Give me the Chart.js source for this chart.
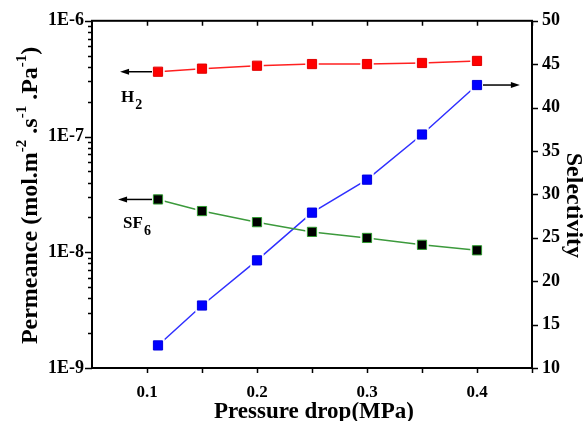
<!DOCTYPE html>
<html>
<head>
<meta charset="utf-8">
<script src="https://cdn.jsdelivr.net/npm/chart.js@4.4.1/dist/chart.umd.min.js"></script>
<style>
  html, body { margin: 0; padding: 0; background: #fff; }
  canvas { display: block; }
</style>
</head>
<body>
<canvas id="chart" width="585" height="421"></canvas>
<script>
// pressure drop (MPa)
var pressure = [0.11, 0.15, 0.2, 0.25, 0.3, 0.35, 0.4];
// permeance, mol.m-2.s-1.Pa-1
var h2Perm = [3.63e-7, 3.86e-7, 4.09e-7, 4.23e-7, 4.23e-7, 4.32e-7, 4.50e-7];
var sf6Perm = [2.86e-8, 2.27e-8, 1.82e-8, 1.50e-8, 1.33e-8, 1.16e-8, 1.04e-8];
// H2/SF6 selectivity
var selectivity = [12.6, 17.2, 22.4, 27.9, 31.7, 36.9, 42.6];

var xTicks = [0.1, 0.2, 0.3, 0.4];
var xLabels = ['0.1', '0.2', '0.3', '0.4'];
var permTicks = [1e-9, 1e-8, 1e-7, 1e-6];
var permLabels = ['1E-9', '1E-8', '1E-7', '1E-6'];

var SERIF = '"Liberation Serif", "Times New Roman", serif';

function pts(ys) {
    return pressure.map(function (p, i) { return { x: p, y: ys[i] }; });
}

// each series: a plain line, a white halo under the markers (gives the
// small gap between line and marker), then the markers themselves
function series(ys, axis, lineColor, fill, edge) {
    return [
        { data: pts(ys), yAxisID: axis, borderColor: lineColor, borderWidth: 1.5,
          pointRadius: 0, showLine: true, order: 3 },
        { data: pts(ys), yAxisID: axis, showLine: false, pointStyle: 'rect',
          pointRadius: 9.5, pointBackgroundColor: '#fff', pointBorderWidth: 0, order: 2 },
        { data: pts(ys), yAxisID: axis, showLine: false, pointStyle: 'rect',
          pointRadius: 6.5, pointBackgroundColor: fill, pointBorderColor: edge,
          pointBorderWidth: 1, order: 1 }
    ];
}

function arrow(ctx, x0, y0, x1, y1) {
    var dir = x1 > x0 ? 1 : -1;
    ctx.beginPath();
    ctx.moveTo(x0, y0);
    ctx.lineTo(x1 - dir * 6, y1);
    ctx.stroke();
    ctx.beginPath();
    ctx.moveTo(x1, y1);
    ctx.lineTo(x1 - dir * 9, y1 - 3);
    ctx.lineTo(x1 - dir * 9, y1 + 3);
    ctx.closePath();
    ctx.fill();
}

// text with a subscript part, e.g. H + 2
function subText(ctx, main, sub, x, y) {
    ctx.font = 'bold 17px ' + SERIF;
    ctx.fillText(main, x, y);
    var w = ctx.measureText(main).width;
    ctx.font = 'bold 14px ' + SERIF;
    ctx.fillText(sub, x + w + 1, y + 7);
}

var frame = {
    id: 'frame',
    afterDraw: function (chart) {
        var ctx = chart.ctx;
        var a = chart.chartArea;
        var sx = chart.scales.x, sy = chart.scales.y, sy2 = chart.scales.y2;
        ctx.save();
        ctx.strokeStyle = '#000';
        ctx.fillStyle = '#000';

        // axis box
        ctx.lineWidth = 2;
        ctx.strokeRect(a.left, a.top, a.right - a.left, a.bottom - a.top);

        // x ticks: outward at bottom, inward at top
        ctx.lineWidth = 1.5;
        ctx.beginPath();
        for (var v = 0.1; v < 0.451; v += 0.05) {
            var px = Math.round(sx.getPixelForValue(v)) + 0.5;
            ctx.moveTo(px, a.bottom); ctx.lineTo(px, a.bottom + 5);
            ctx.moveTo(px, a.top); ctx.lineTo(px, a.top + 5);
        }
        // log ticks on the left, decades long, 2..9 short
        permTicks.forEach(function (d, i) {
            var py = Math.round(sy.getPixelForValue(d)) + 0.5;
            ctx.moveTo(a.left, py); ctx.lineTo(a.left - 7, py);
            if (i < permTicks.length - 1) {
                for (var k = 2; k <= 9; k++) {
                    var my = Math.round(sy.getPixelForValue(k * d)) + 0.5;
                    ctx.moveTo(a.left, my); ctx.lineTo(a.left - 4, my);
                }
            }
        });
        // selectivity ticks on the right
        for (var s = 10; s <= 50; s += 5) {
            var ry = Math.round(sy2.getPixelForValue(s)) + 0.5;
            ctx.moveTo(a.right, ry); ctx.lineTo(a.right + 6, ry);
        }
        ctx.stroke();

        // arrows pointing to the axis each series belongs to
        ctx.lineWidth = 1.5;
        var tipL = sx.getPixelForValue(0.0755);
        var tipR = sx.getPixelForValue(0.439);
        var x0 = sx.getPixelForValue(pressure[0]);
        var xN = sx.getPixelForValue(pressure[pressure.length - 1]);
        var yH2 = sy.getPixelForValue(h2Perm[0]);
        var ySF6 = sy.getPixelForValue(sf6Perm[0]);
        var ySel = sy2.getPixelForValue(selectivity[selectivity.length - 1]);
        arrow(ctx, x0 - 6, yH2, tipL, yH2);
        arrow(ctx, x0 - 6, ySF6, tipL - 2, ySF6);
        arrow(ctx, xN + 6, ySel, tipR, ySel);

        ctx.textAlign = 'left';
        ctx.textBaseline = 'alphabetic';
        subText(ctx, 'H', '2', tipL + 1, yH2 + 30);
        subText(ctx, 'SF', '6', tipL + 3, ySF6 + 29);

        // axis titles
        ctx.font = 'bold 23px ' + SERIF;
        ctx.textAlign = 'center';
        ctx.fillText('Pressure drop(MPa)', (a.left + a.right) / 2 + 2, 418);

        ctx.save();
        ctx.translate(567, (a.top + a.bottom) / 2 + 11);
        ctx.rotate(Math.PI / 2);
        ctx.font = 'bold 24px ' + SERIF;
        ctx.fillText('Selectivity', 0, 0);
        ctx.restore();

        // left title with superscripts, drawn piece by piece
        ctx.save();
        ctx.translate(37, (a.top + a.bottom) / 2 + 1);
        ctx.rotate(-Math.PI / 2);
        var parts = [
            ['Permeance (mol.m', 0], ['-2', 1], [' .s', 0], ['-1', 1],
            [' .Pa', 0], ['-1', 1], [')', 0]
        ];
        var big = 'bold 24px ' + SERIF, small = 'bold 15px ' + SERIF;
        var total = 0;
        parts.forEach(function (p) {
            ctx.font = p[1] ? small : big;
            total += ctx.measureText(p[0]).width;
        });
        var cx = -total / 2;
        ctx.textAlign = 'left';
        parts.forEach(function (p) {
            ctx.font = p[1] ? small : big;
            ctx.fillText(p[0], cx, p[1] ? -11 : 0);
            cx += ctx.measureText(p[0]).width;
        });
        ctx.restore();

        ctx.restore();
    }
};

var xFont = { family: SERIF, weight: 'bold', size: 17 };
var yFont = { family: SERIF, weight: 'bold', size: 18 };

var datasets = []
    .concat(series(h2Perm, 'y', '#ff2020', '#ff0000', '#e00000'))
    .concat(series(sf6Perm, 'y', '#3c9a3c', '#000000', '#2f9a2f'))
    .concat(series(selectivity, 'y2', '#3030ff', '#0000ff', '#0000e0'));

new Chart(document.getElementById('chart'), {
    type: 'scatter',
    data: { datasets: datasets },
    options: {
        responsive: false,
        animation: false,
        devicePixelRatio: 1,
        layout: { padding: { top: 20, left: 0, right: 0, bottom: 0 } },
        plugins: { legend: { display: false }, tooltip: { enabled: false } },
        scales: {
            x: {
                type: 'linear', position: 'bottom', min: 0.05, max: 0.45,
                afterBuildTicks: function (s) { s.ticks = xTicks.map(function (v) { return { value: v }; }); },
                afterFit: function (s) { s.height = 53; },
                grid: { display: false, drawTicks: false },
                border: { display: false },
                ticks: { font: xFont, color: '#000', padding: 14, maxRotation: 0,
                         callback: function (v, i) { return xLabels[i]; } }
            },
            y: {
                type: 'logarithmic', position: 'left', min: 1e-9, max: 1e-6,
                afterBuildTicks: function (s) { s.ticks = permTicks.map(function (v) { return { value: v }; }); },
                afterFit: function (s) { s.width = 92; },
                grid: { display: false, drawTicks: false },
                border: { display: false },
                ticks: { font: yFont, color: '#000', padding: 8,
                         callback: function (v, i) { return permLabels[i]; } }
            },
            y2: {
                type: 'linear', position: 'right', min: 10, max: 50,
                afterFit: function (s) { s.width = 53; },
                grid: { display: false, drawTicks: false },
                border: { display: false },
                ticks: { font: yFont, color: '#000', padding: 10, stepSize: 5 }
            }
        }
    },
    plugins: [frame]
});
</script>
</body>
</html>
